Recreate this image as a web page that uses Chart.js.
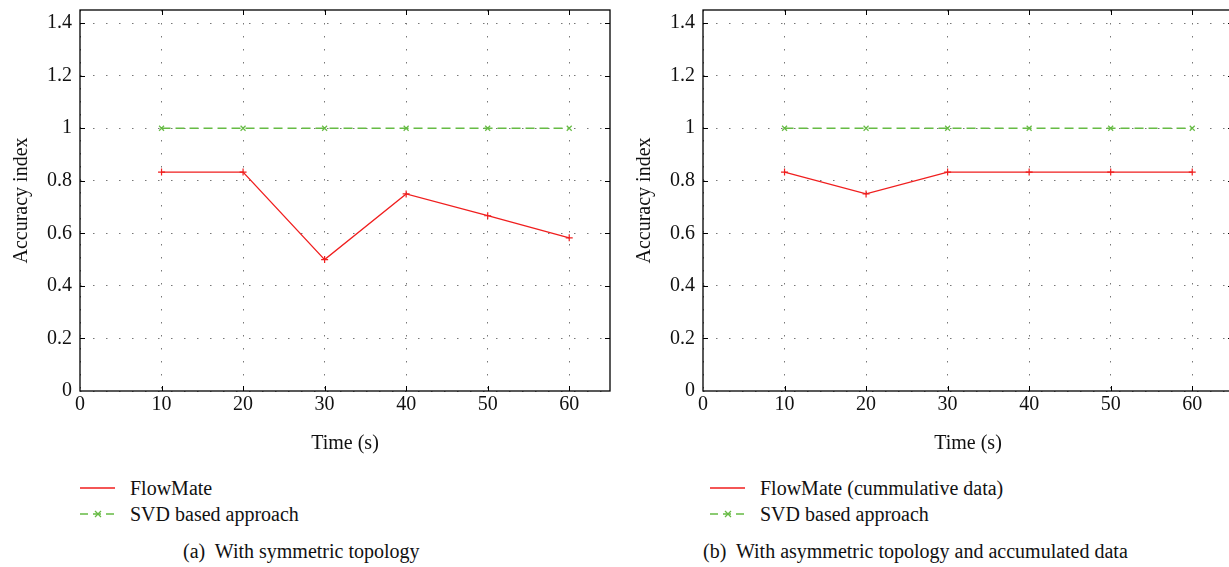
<!DOCTYPE html>
<html lang="en">
<head>
<meta charset="UTF-8">
<title>Accuracy index</title>
<script src="https://cdn.jsdelivr.net/npm/chart.js"></script>
<style>
    html, body { margin: 0; padding: 0; background: #fff; overflow: hidden; width: 1229px; height: 567px; }
    body { position: relative; font-family: "Liberation Serif", "DejaVu Serif", serif; color: #111; }
    canvas { position: absolute; top: 0; }
    .legend { position: absolute; font-size: 20px; line-height: 26px; }
    .legend div { position: relative; height: 26px; white-space: nowrap; }
    .legend svg { position: absolute; left: 0; top: 7px; }
    .legend span { position: absolute; left: 50px; top: 0; }
    .caption { position: absolute; font-size: 20px; white-space: nowrap; }
</style>
</head>
<body>
<canvas id="chartA" width="620" height="460" style="left:0px"></canvas>
<canvas id="chartB" width="620" height="460" style="left:623px"></canvas>

<div class="legend" style="left:80px; top:475px;">
    <div><svg width="36" height="12"><line x1="0" y1="6" x2="35" y2="6" stroke="#f01e1e" stroke-width="1.3"/></svg><span>FlowMate</span></div>
    <div><svg width="36" height="12"><line x1="0" y1="6" x2="35" y2="6" stroke="#66bb44" stroke-width="1.4" stroke-dasharray="8,5"/><path d="M15 3 L21 9 M21 3 L15 9" stroke="#66bb44" stroke-width="1.3"/></svg><span>SVD based approach</span></div>
</div>
<div class="caption" style="left:183px; top:540px;">(a)&nbsp; With symmetric topology</div>

<div class="legend" style="left:710px; top:475px;">
    <div><svg width="36" height="12"><line x1="0" y1="6" x2="35" y2="6" stroke="#f01e1e" stroke-width="1.3"/></svg><span>FlowMate (cummulative data)</span></div>
    <div><svg width="36" height="12"><line x1="0" y1="6" x2="35" y2="6" stroke="#66bb44" stroke-width="1.4" stroke-dasharray="8,5"/><path d="M15 3 L21 9 M21 3 L15 9" stroke="#66bb44" stroke-width="1.3"/></svg><span>SVD based approach</span></div>
</div>
<div class="caption" style="left:703px; top:540px;">(b)&nbsp; With asymmetric topology and accumulated data</div>

<script>
    // time samples (s)
    const times = [10, 20, 30, 40, 50, 60];

    // (a) symmetric topology
    const flowMateSym = [0.833, 0.833, 0.5, 0.75, 0.667, 0.583];
    const svdSym = [1, 1, 1, 1, 1, 1];

    // (b) asymmetric topology, accumulated data
    const flowMateAsym = [0.833, 0.75, 0.833, 0.833, 0.833, 0.833];
    const svdAsym = [1, 1, 1, 1, 1, 1];

    const xTitle = 'Time (s)';
    const yTitle = 'Accuracy index';

    const RED = '#f01e1e';
    const GREEN = '#66bb44';
    const FONT = { family: '"Liberation Serif", "DejaVu Serif", serif', size: 20 };

    Chart.defaults.color = '#111';

    function pts(ys) {
        return times.map((t, i) => ({ x: t, y: ys[i] }));
    }

    // frame + inward tick marks on all four sides (gnuplot style)
    const frameTicks = {
        id: 'frameTicks',
        afterDraw(chart) {
            const { ctx, chartArea: a, scales } = chart;
            const len = 5;
            ctx.save();
            ctx.strokeStyle = '#000';
            ctx.lineWidth = 1;
            ctx.beginPath();
            scales.x.ticks.forEach(t => {
                if (t.value <= scales.x.min || t.value >= scales.x.max) return;
                const px = Math.round(scales.x.getPixelForValue(t.value)) + 0.5;
                ctx.moveTo(px, a.bottom); ctx.lineTo(px, a.bottom - len);
                ctx.moveTo(px, a.top); ctx.lineTo(px, a.top + len);
            });
            scales.y.ticks.forEach(t => {
                if (t.value <= scales.y.min || t.value >= scales.y.max) return;
                const py = Math.round(scales.y.getPixelForValue(t.value)) + 0.5;
                ctx.moveTo(a.left, py); ctx.lineTo(a.left + len, py);
                ctx.moveTo(a.right, py); ctx.lineTo(a.right - len, py);
            });
            ctx.stroke();
            ctx.lineWidth = 1.3;
            ctx.strokeRect(a.left, a.top, a.right - a.left, a.bottom - a.top);
            ctx.restore();
        }
    };

    function makeChart(id, redData, greenData, redLabel) {
        return new Chart(document.getElementById(id), {
            type: 'line',
            data: {
                datasets: [
                    {
                        label: redLabel,
                        data: pts(redData),
                        borderColor: RED,
                        backgroundColor: RED,
                        borderWidth: 1.3,
                        pointStyle: 'cross',
                        pointRadius: 3.5,
                        pointBorderWidth: 1.2,
                        tension: 0
                    },
                    {
                        label: 'SVD based approach',
                        data: pts(greenData),
                        borderColor: GREEN,
                        backgroundColor: GREEN,
                        borderWidth: 1.5,
                        borderDash: [9, 5],
                        pointStyle: 'crossRot',
                        pointRadius: 3.5,
                        pointBorderWidth: 1.2,
                        tension: 0
                    }
                ]
            },
            options: {
                responsive: false,
                animation: false,
                devicePixelRatio: 1,
                layout: { padding: { top: 10, right: 10, left: 0, bottom: 0 } },
                plugins: { legend: { display: false }, tooltip: { enabled: false } },
                scales: {
                    x: {
                        type: 'linear',
                        min: 0,
                        max: 65,
                        ticks: { stepSize: 10, includeBounds: false, font: FONT, padding: 2, maxRotation: 0 },
                        grid: { color: '#777', drawTicks: false, lineWidth: 1 },
                        border: { display: false, dash: [1.5, 11.5] },
                        title: { display: true, text: xTitle, font: FONT, padding: { top: 6 } },
                        afterFit(s) { s.height = 69; s.paddingLeft = 0; s.paddingRight = 0; }
                    },
                    y: {
                        min: 0,
                        max: 1.45,
                        ticks: {
                            stepSize: 0.2,
                            includeBounds: false,
                            font: FONT,
                            padding: 8,
                            callback: v => String(+v.toFixed(1))
                        },
                        grid: { color: '#777', drawTicks: false, lineWidth: 1 },
                        border: { display: false, dash: [1.5, 11.5] },
                        title: { display: true, text: yTitle, font: FONT, padding: { top: 10, bottom: 0 } },
                        afterFit(s) { s.width = 80; s.paddingTop = 0; s.paddingBottom = 0; }
                    }
                }
            },
            plugins: [frameTicks]
        });
    }

    makeChart('chartA', flowMateSym, svdSym, 'FlowMate');
    makeChart('chartB', flowMateAsym, svdAsym, 'FlowMate (cummulative data)');
</script>
</body>
</html>
